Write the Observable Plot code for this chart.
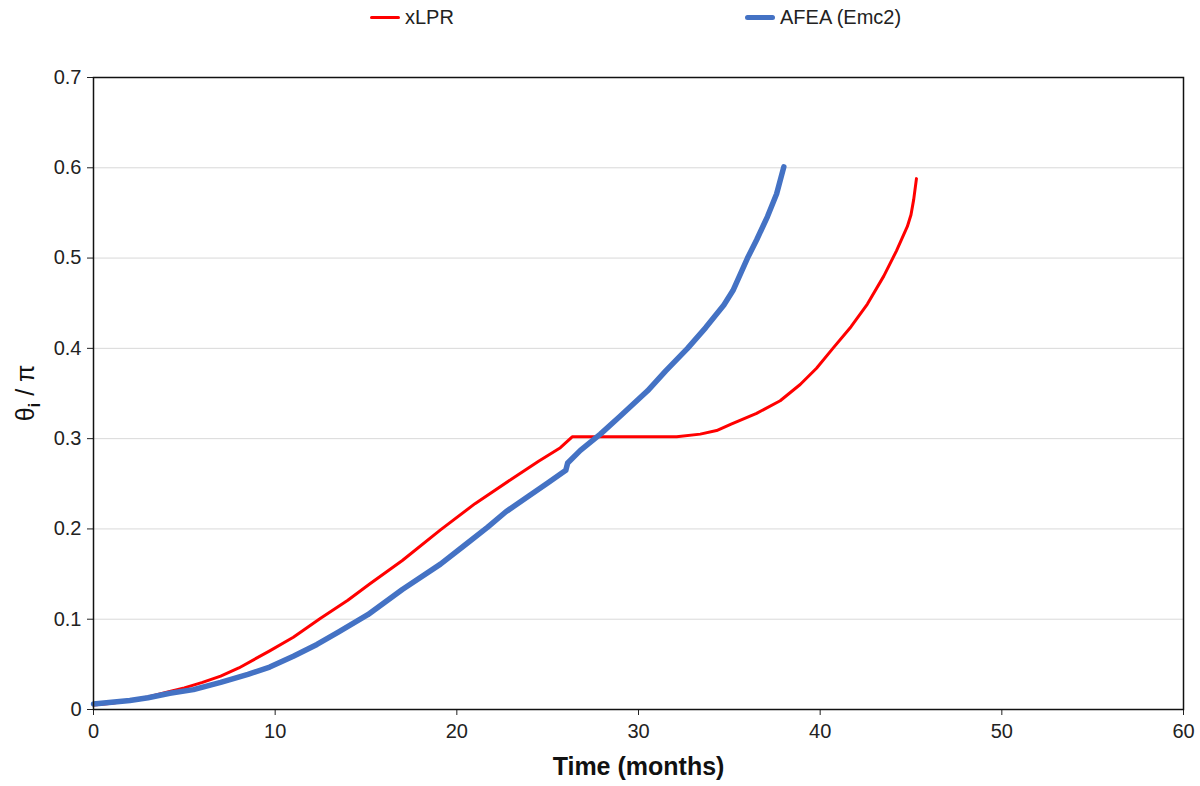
<!DOCTYPE html>
<html>
<head>
<meta charset="utf-8">
<script src="https://cdn.jsdelivr.net/npm/d3@7"></script>
<script src="https://cdn.jsdelivr.net/npm/@observablehq/plot@0.6"></script>
<style>
  html, body { margin: 0; padding: 0; background: #fff; }
  body { width: 1200px; height: 786px; overflow: hidden; font-family: "Liberation Sans", Arial, sans-serif; }
  #legend { position: relative; height: 36px; width: 1200px; }
  .item { position: absolute; top: 6px; display: flex; align-items: center; font-size: 20px; color: #222; }
  .swatch { display: inline-block; width: 30px; margin-right: 5px; border-radius: 3px; }
</style>
</head>
<body>
<div id="legend"></div>
<div id="chart"></div>
<script>
// ---- data ----
const seriesNames = ["xLPR", "AFEA (Emc2)"];
const seriesColors = ["#ff0000", "#4472c4"];

const xlprTime  = [0, 1, 2, 3, 4.2, 5, 6, 7, 8, 9.7, 11, 12.5, 14, 15.2, 17, 19.1, 21, 23, 24.5, 25.7, 26.35, 29, 32.1, 33.4, 34.3, 35.1, 36.5, 37.8, 38.9, 39.8, 40.7, 41.7, 42.6, 43.5, 44.2, 44.8, 45.0, 45.15, 45.3];
const xlprTheta = [0.005, 0.007, 0.010, 0.014, 0.020, 0.024, 0.030, 0.037, 0.046, 0.065, 0.080, 0.101, 0.121, 0.139, 0.165, 0.199, 0.228, 0.255, 0.275, 0.290, 0.302, 0.302, 0.302, 0.305, 0.309, 0.316, 0.328, 0.342, 0.360, 0.378, 0.400, 0.424, 0.449, 0.480, 0.508, 0.535, 0.548, 0.565, 0.588];

const afeaTime  = [0, 1, 2, 3, 4.2, 5.5, 7, 8.5, 9.7, 11, 12.3, 13.5, 15.1, 17, 19.1, 20.5, 21.7, 22.7, 24, 25, 26.0, 26.1, 26.8, 27.9, 29, 30.5, 31.5, 32.7, 33.7, 34.7, 35.2, 36.0, 36.5, 37.1, 37.6, 38.0];
const afeaTheta = [0.006, 0.008, 0.010, 0.013, 0.018, 0.022, 0.030, 0.039, 0.047, 0.059, 0.072, 0.086, 0.105, 0.133, 0.161, 0.183, 0.202, 0.219, 0.237, 0.251, 0.265, 0.273, 0.287, 0.305, 0.325, 0.353, 0.375, 0.400, 0.423, 0.448, 0.464, 0.500, 0.520, 0.546, 0.571, 0.601];

const xTicks = [0, 10, 20, 30, 40, 50, 60];
const yTicks = [0, 0.1, 0.2, 0.3, 0.4, 0.5, 0.6, 0.7];
const xTitle = "Time (months)";

// ---- tables ----
const xlpr = xlprTime.map((t, i) => ({t, v: xlprTheta[i]}));
const afea = afeaTime.map((t, i) => ({t, v: afeaTheta[i]}));

// ---- legend ----
const legend = document.getElementById("legend");
const legendX = [370, 745];
const legendW = [3, 5.5];
seriesNames.forEach((name, i) => {
  const it = document.createElement("div");
  it.className = "item";
  it.style.left = legendX[i] + "px";
  const sw = document.createElement("span");
  sw.className = "swatch";
  sw.style.height = legendW[i] + "px";
  sw.style.background = seriesColors[i];
  it.appendChild(sw);
  it.appendChild(document.createTextNode(name));
  legend.appendChild(it);
});

// ---- chart ----
const chart = Plot.plot({
  width: 1200,
  height: 750,
  marginTop: 41,
  marginBottom: 77,
  marginLeft: 93,
  marginRight: 17,
  style: { fontFamily: "Liberation Sans, Arial, sans-serif", fontSize: "20px", color: "#222", background: "#fff" },
  x: { domain: [0, 60], ticks: xTicks },
  y: { domain: [0, 0.7], ticks: yTicks },
  marks: [
    Plot.gridY(yTicks.filter(d => d > 0 && d < 0.7), { stroke: "#d9d9d9", strokeOpacity: 1, strokeWidth: 1 }),
    Plot.axisX({ ticks: xTicks, tickSize: 6, tickPadding: 8, fontSize: 20, label: null, stroke: "#222" }),
    Plot.axisY({ ticks: yTicks, tickSize: 6, tickPadding: 6, fontSize: 20, label: null, stroke: "#222",
                 tickFormat: d => d === 0 ? "0" : d.toFixed(1) }),
    Plot.line(xlpr, { x: "t", y: "v", stroke: seriesColors[0], strokeWidth: 3, strokeLinejoin: "round" }),
    Plot.line(afea, { x: "t", y: "v", stroke: seriesColors[1], strokeWidth: 5.5, strokeLinejoin: "round", strokeLinecap: "round" }),
    Plot.frame({ stroke: "#111", strokeWidth: 1.5 }),
    Plot.text([xTitle], { frameAnchor: "bottom", dy: 65, fontSize: 25, fontWeight: "bold", fill: "#111" })
  ]
});
document.getElementById("chart").appendChild(chart);

// y-axis title with subscript
const svg = d3.select(chart);
const yt = svg.append("text")
  .attr("transform", "translate(34,357) rotate(-90)")
  .attr("text-anchor", "middle")
  .attr("font-size", 25)
  .attr("font-family", "Liberation Sans, Arial, sans-serif")
  .attr("fill", "#111");
yt.append("tspan").text("θ");
yt.append("tspan").attr("font-size", 17).attr("dy", 6).attr("font-weight", "bold").text("i");
yt.append("tspan").attr("dy", -6).text(" / π");
</script>
</body>
</html>
